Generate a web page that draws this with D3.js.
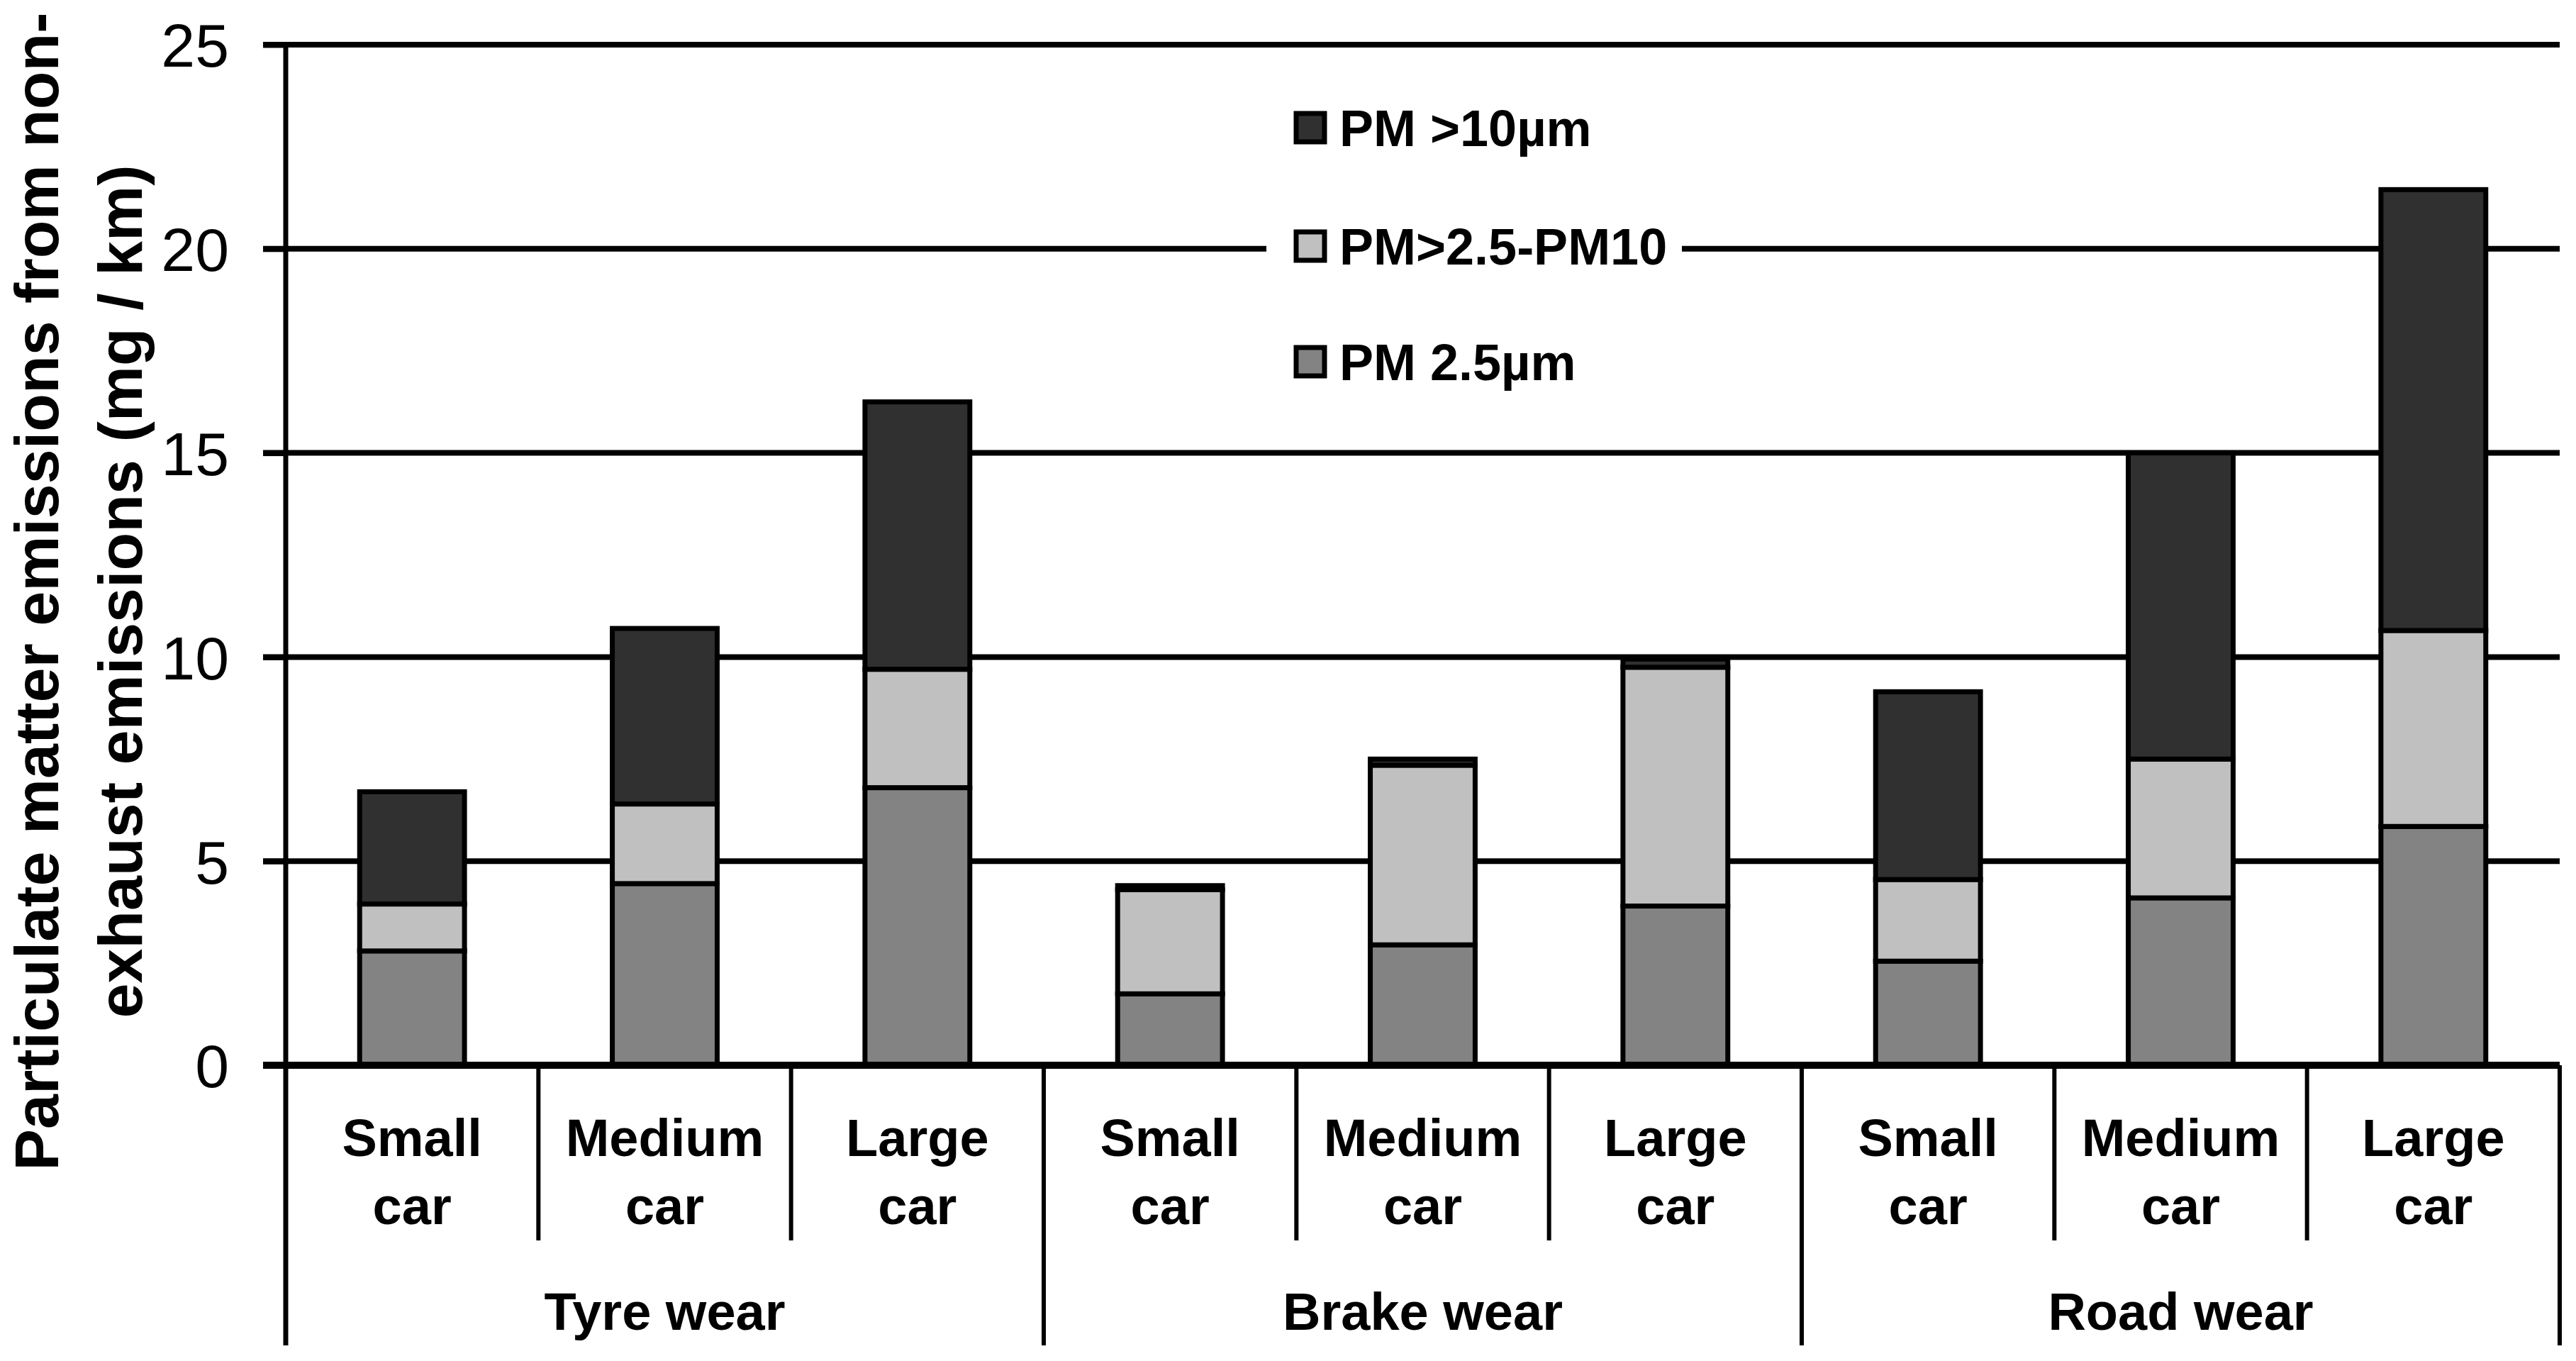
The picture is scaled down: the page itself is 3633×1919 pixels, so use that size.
<!DOCTYPE html>
<html>
<head>
<meta charset="utf-8">
<script src="https://cdn.jsdelivr.net/npm/d3@7"></script>
<style>
  body { margin: 0; background: #fff; }
  text { font-family: "Liberation Sans", Arial, sans-serif; fill: #000; }
</style>
</head>
<body>
<svg id="chart" width="3633" height="1919"></svg>
<script>
// categories
const groups = ["Tyre wear", "Brake wear", "Road wear"];
const sizes = [["Small", "car"], ["Medium", "car"], ["Large", "car"]];

// series values (mg/km), one per bar: tyre s/m/l, brake s/m/l, road s/m/l
const pm25 = [2.8, 4.45, 6.8, 1.75, 2.95, 3.9, 2.55, 4.1, 5.85];
const pm25to10 = [1.15, 1.95, 2.9, 2.55, 4.4, 5.85, 2.0, 3.4, 4.8];
const pmOver10 = [2.75, 4.3, 6.55, 0.1, 0.15, 0.2, 4.6, 7.5, 10.8];

const seriesKeys = ["pm25", "pm25to10", "pmOver10"];
const seriesNames = ["PM 2.5µm", "PM>2.5-PM10", "PM >10µm"];
const seriesColors = ["#838383", "#c0c0c0", "#303030"];

const yTicks = [0, 5, 10, 15, 20, 25];

const rows = pm25.map((v, i) => ({
    idx: i,
    group: groups[Math.floor(i / 3)],
    size: sizes[i % 3],
    pm25: v,
    pm25to10: pm25to10[i],
    pmOver10: pmOver10[i]
}));

const svg = d3.select("#chart");
const plotLeft = 403, plotRight = 3610, plotTop = 63, plotBottom = 1502;

const x = d3.scaleBand()
    .domain(rows.map(d => d.idx))
    .range([plotLeft, plotRight])
    .paddingInner(0.585)
    .paddingOuter(0.2925);
const step = x.step();

const y = d3.scaleLinear().domain([0, 25]).range([plotBottom, plotTop]);

// gridlines with tick stubs
svg.append("g").attr("class", "grid")
    .selectAll("line")
    .data(yTicks.filter(t => t > 0))
    .join("line")
    .attr("x1", 371).attr("x2", plotRight)
    .attr("y1", d => y(d)).attr("y2", d => y(d))
    .attr("stroke", "#000").attr("stroke-width", 8);

// tick labels
const yAxis = svg.append("g")
    .attr("transform", `translate(${plotLeft},0)`)
    .call(d3.axisLeft(y).tickValues(yTicks).tickSize(32).tickPadding(48));
yAxis.select(".domain").remove();
yAxis.selectAll(".tick line").attr("stroke", "#000").attr("stroke-width", 8);
yAxis.selectAll(".tick text")
    .attr("font-size", 86)
    .attr("font-family", "'Liberation Sans', Arial, sans-serif")
    .attr("fill", "#000")
    .attr("dy", "0.36em");

// legend background (breaks the gridline)
const legend = svg.append("g").attr("class", "legend");
legend.append("rect")
    .attr("x", 1786).attr("y", 120).attr("width", 586).attr("height", 450)
    .attr("fill", "#fff");
const legendRows = [
    { i: 2, cy: 180 },
    { i: 1, cy: 347 },
    { i: 0, cy: 510 }
];
const li = legend.selectAll("g.item").data(legendRows).join("g").attr("class", "item");
li.append("rect")
    .attr("x", 1828).attr("y", d => d.cy - 20)
    .attr("width", 40).attr("height", 40)
    .attr("fill", d => seriesColors[d.i])
    .attr("stroke", "#000").attr("stroke-width", 7);
li.append("text")
    .attr("x", 1889).attr("y", d => d.cy + 26)
    .attr("font-size", 72).attr("font-weight", "bold")
    .text(d => seriesNames[d.i]);

// stacked bars
const stack = d3.stack().keys(seriesKeys)(rows);
svg.append("g").attr("class", "bars")
    .selectAll("g")
    .data(stack)
    .join("g")
    .attr("fill", (d, i) => seriesColors[i])
    .selectAll("rect")
    .data(d => d)
    .join("rect")
    .attr("x", d => x(d.data.idx))
    .attr("width", x.bandwidth())
    .attr("y", d => y(d[1]))
    .attr("height", d => y(d[0]) - y(d[1]))
    .attr("stroke", "#000")
    .attr("stroke-width", 7);

// y axis line (runs down into the category table)
svg.append("line")
    .attr("x1", plotLeft).attr("x2", plotLeft).attr("y1", plotTop).attr("y2", 1897)
    .attr("stroke", "#000").attr("stroke-width", 7);

// x baseline
svg.append("line")
    .attr("x1", 371).attr("x2", plotRight).attr("y1", plotBottom).attr("y2", plotBottom)
    .attr("stroke", "#000").attr("stroke-width", 10);

// separators between sub categories and groups
const seps = d3.range(1, 10).map(k => ({ k, xPos: plotLeft + k * step }));
svg.append("g").attr("class", "seps")
    .selectAll("line")
    .data(seps)
    .join("line")
    .attr("x1", d => d.xPos).attr("x2", d => d.xPos)
    .attr("y1", plotBottom).attr("y2", d => d.k % 3 === 0 ? 1897 : 1749)
    .attr("stroke", "#000").attr("stroke-width", 6);

// category labels
const catLabels = svg.append("g").attr("class", "cat-labels")
    .selectAll("text")
    .data(rows)
    .join("text")
    .attr("x", d => x(d.idx) + x.bandwidth() / 2)
    .attr("text-anchor", "middle")
    .attr("font-size", 74).attr("font-weight", "bold");
catLabels.append("tspan").attr("x", d => x(d.idx) + x.bandwidth() / 2).attr("y", 1630).text(d => d.size[0]);
catLabels.append("tspan").attr("x", d => x(d.idx) + x.bandwidth() / 2).attr("y", 1726).text(d => d.size[1]);

// group labels
svg.append("g").attr("class", "group-labels")
    .selectAll("text")
    .data(groups)
    .join("text")
    .attr("x", (d, i) => plotLeft + (i * 3 + 1.5) * step)
    .attr("y", 1875)
    .attr("text-anchor", "middle")
    .attr("font-size", 74).attr("font-weight", "bold")
    .text(d => d);

// y axis title, two lines
const yTitle = svg.append("text")
    .attr("transform", "translate(0,834) rotate(-90)")
    .attr("text-anchor", "middle")
    .attr("font-size", 88).attr("font-weight", "bold");
yTitle.append("tspan").attr("x", 0).attr("y", 82).text("Particulate matter emissions from non-");
yTitle.append("tspan").attr("x", 0).attr("y", 200).text("exhaust emissions (mg / km)");
</script>
</body>
</html>
